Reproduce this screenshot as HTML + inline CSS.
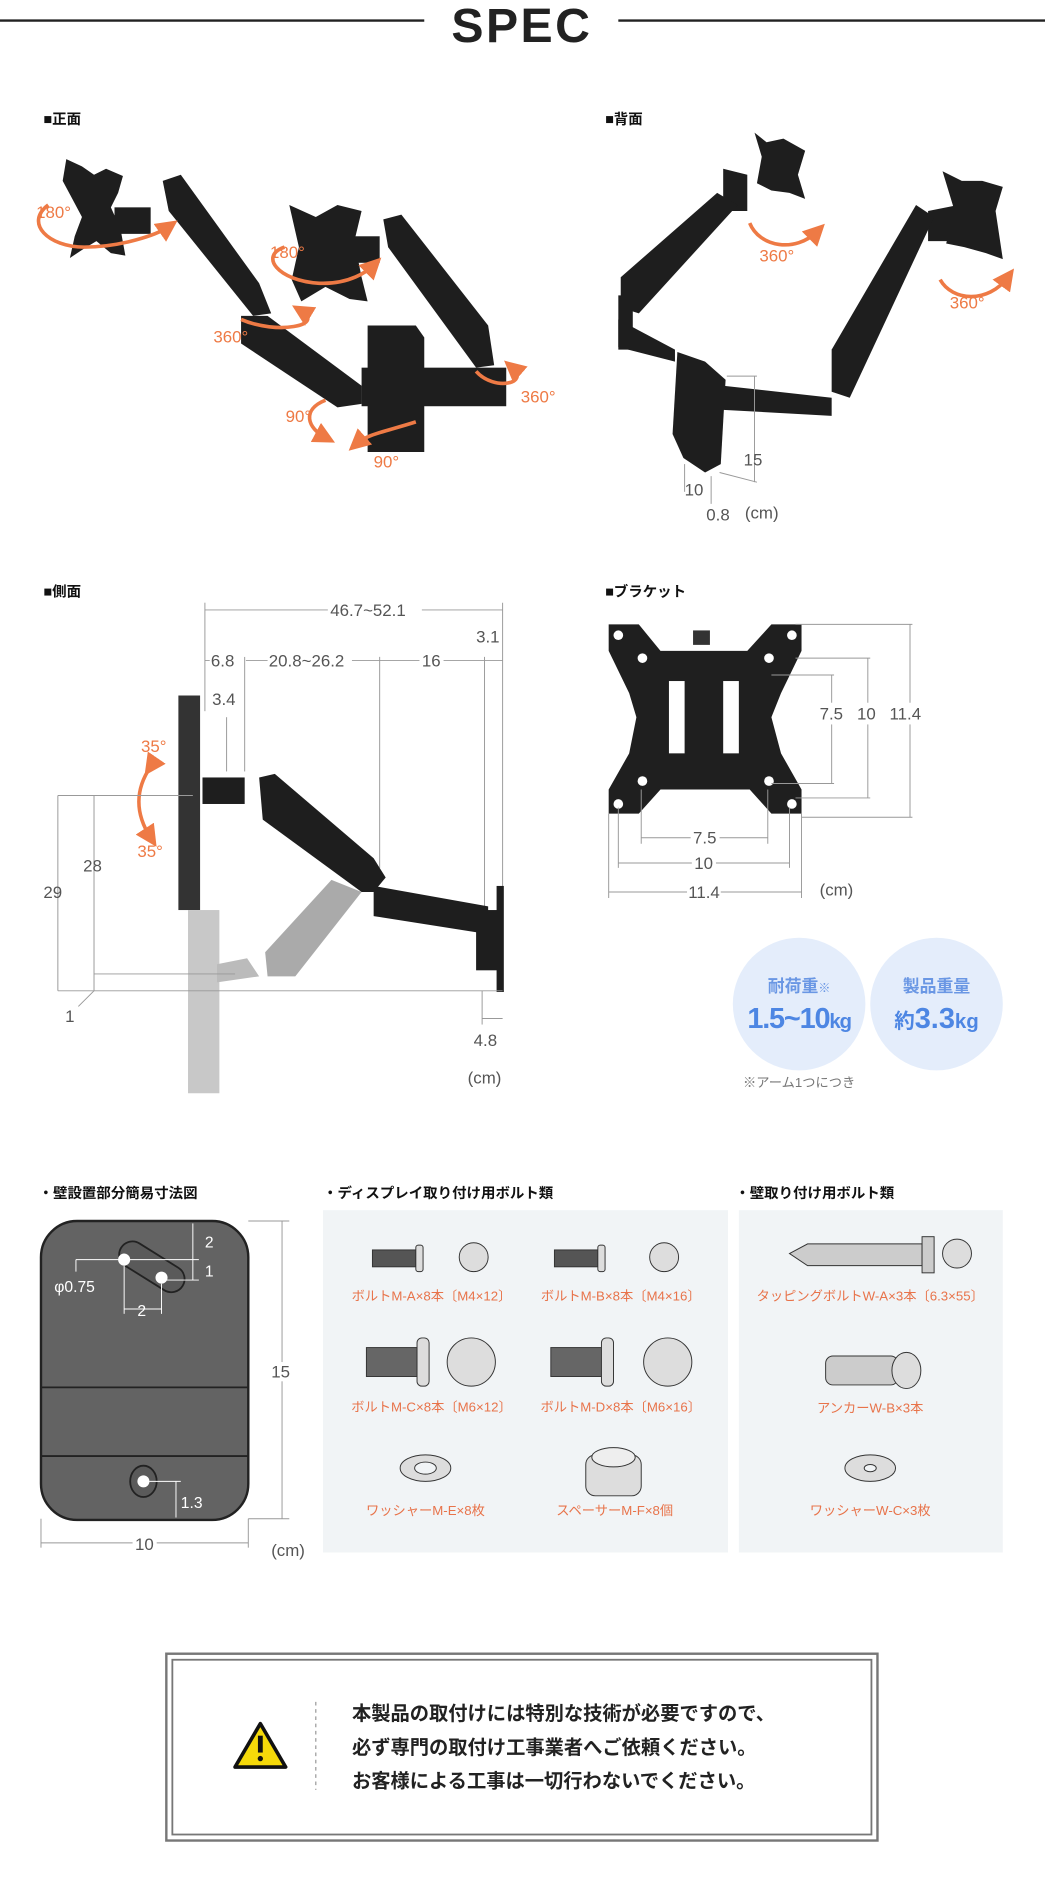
<!DOCTYPE html>
<html><head><meta charset="utf-8"><style>
html,body{margin:0;padding:0;background:#fff;width:1045px;height:1890px;overflow:hidden}
svg{display:block}
text{font-family:"Liberation Sans","Noto Sans CJK JP",sans-serif}
.d{fill:#555;font-size:14px}
.dl{stroke:#999;stroke-width:0.8;fill:none}
.o{fill:#ee7a45;font-size:14px}
.ob{fill:#e8734a;font-size:11px;text-anchor:middle}
.h{font-size:12px;font-weight:bold;fill:#111}
.blk{fill:#1e1e1e}
.arr{stroke:#ee7a45;stroke-width:3;fill:none}
</style></head><body>
<svg width="1045" height="1890" viewBox="0 0 867 1568" xmlns="http://www.w3.org/2000/svg">
<defs><marker id="ah" markerWidth="6" markerHeight="6" refX="3" refY="3" orient="auto"><path d="M0,0 L6,3 L0,6 z" fill="#ee7a45"/></marker></defs>
<!-- title -->
<line x1="0" y1="17" x2="352" y2="17" stroke="#222" stroke-width="2"/>
<line x1="513" y1="17" x2="867" y2="17" stroke="#222" stroke-width="2"/>
<text x="433" y="35" text-anchor="middle" style="font-size:40px;font-weight:bold;fill:#222;letter-spacing:2px">SPEC</text>

<text class="h" x="36" y="103">■正面</text>
<text class="h" x="502" y="103">■背面</text>
<text class="h" x="36" y="495">■側面</text>
<text class="h" x="502" y="495">■ブラケット</text>

<!-- FRONT VIEW -->
<g class="blk">
<path d="M55,132 L68,138 L78,145 L88,140 L102,146 L98,160 L92,172 L100,190 L104,212 L92,210 L80,200 L70,206 L58,214 L62,196 L68,180 L60,165 L52,150 Z"/>
<rect x="95" y="172" width="30" height="22"/>
<path d="M135,150 L150,145 L215,235 L225,260 L210,262 L140,175 Z"/>
<path d="M240,170 L262,180 L280,170 L300,175 L294,200 L300,230 L305,250 L290,248 L270,238 L250,250 L242,232 L248,205 Z"/>
<rect x="290" y="196" width="25" height="22"/>
<path d="M318,182 L333,178 L405,270 L410,303 L395,305 L322,205 Z"/>
<path d="M200,262 L222,262 L300,320 L300,335 L280,338 L200,285 Z"/>
<rect x="300" y="305" width="120" height="32"/>
<path d="M305,270 L345,270 L352,280 L352,375 L305,375 Z" />
</g>
<path class="arr" d="M40,170 C20,185 40,205 70,205 C100,205 130,195 140,188" marker-end="url(#ah)"/>
<path class="arr" d="M236,205 C215,212 230,233 265,235 C290,236 305,225 310,220" marker-end="url(#ah)"/>
<path class="arr" d="M200,265 C230,278 270,270 250,258" marker-end="url(#ah)"/>
<path class="arr" d="M395,308 C410,325 440,318 425,305" marker-end="url(#ah)"/>
<path class="arr" d="M345,350 C320,358 305,360 296,368" marker-end="url(#ah)"/>
<path class="arr" d="M270,332 C250,340 255,355 270,363" marker-end="url(#ah)"/>
<text class="o" x="30" y="181">180°</text>
<text class="o" x="224" y="214">180°</text>
<text class="o" x="177" y="284">360°</text>
<text class="o" x="432" y="334">360°</text>
<text class="o" x="237" y="350">90°</text>
<text class="o" x="310" y="388">90°</text>

<!-- BACK VIEW -->
<g class="blk">
<path d="M626,110 L636,118 L650,115 L668,125 L662,145 L668,165 L655,160 L640,158 L628,152 L632,130 Z"/>
<path d="M600,140 L620,145 L620,175 L600,175 Z"/>
<path d="M595,160 L612,170 L530,260 L515,255 L515,230 Z"/>
<path d="M782,142 L798,150 L815,150 L832,155 L826,175 L832,215 L818,210 L800,205 L785,202 L792,175 Z"/>
<path d="M770,175 L795,170 L795,200 L770,200 Z"/>
<path d="M760,170 L775,180 L705,330 L690,325 L690,290 Z"/>
<path d="M513,265 L560,290 L560,300 L513,288 Z"/>
<path d="M600,320 L690,330 L690,345 L600,340 Z"/>
<path d="M513,245 L525,245 L525,290 L513,290 Z"/>
<path d="M562,292 L585,300 L602,315 L598,385 L585,392 L567,380 L558,360 Z"/>
</g>
<path class="arr" d="M622,185 C630,205 660,210 678,192" marker-end="url(#ah)"/>
<path class="arr" d="M780,232 C790,250 820,252 836,230" marker-end="url(#ah)"/>
<text class="o" x="630" y="217">360°</text>
<text class="o" x="788" y="256">360°</text>
<line class="dl" x1="603" y1="312" x2="628" y2="312"/>
<line class="dl" x1="626" y1="312" x2="626" y2="400"/>
<line class="dl" x1="597" y1="392" x2="628" y2="400"/>
<line class="dl" x1="568" y1="385" x2="568" y2="408"/>
<line class="dl" x1="590" y1="395" x2="590" y2="418"/>
<text class="d" x="617" y="386">15</text>
<text class="d" x="568" y="411">10</text>
<text class="d" x="586" y="432">0.8</text>
<text class="d" x="618" y="430">(cm)</text>

<!-- SIDE VIEW -->
<line class="dl" x1="170" y1="506" x2="417" y2="506"/>
<rect x="272" y="498" width="78" height="16" fill="#fff"/>
<text class="d" x="274" y="511">46.7~52.1</text>
<line class="dl" x1="170" y1="500" x2="170" y2="590"/>
<line class="dl" x1="417" y1="500" x2="417" y2="740"/>
<line class="dl" x1="170" y1="548" x2="417" y2="548"/>
<rect x="174" y="540" width="30" height="16" fill="#fff"/><text class="d" x="175" y="553">6.8</text>
<rect x="222" y="540" width="70" height="16" fill="#fff"/><text class="d" x="223" y="553">20.8~26.2</text>
<rect x="348" y="540" width="20" height="16" fill="#fff"/><text class="d" x="350" y="553">16</text>
<text class="d" x="395" y="533">3.1</text>
<line class="dl" x1="203" y1="545" x2="203" y2="640"/>
<line class="dl" x1="315" y1="545" x2="315" y2="720"/>
<line class="dl" x1="402" y1="545" x2="402" y2="760"/>
<line class="dl" x1="188" y1="595" x2="188" y2="640"/>
<text class="d" x="176" y="585">3.4</text>
<rect x="148" y="577" width="18" height="178" fill="#333"/>
<rect x="156" y="755" width="26" height="152" fill="#c8c8c8"/>
<path d="M180,800 L205,795 L215,810 L180,815 Z" fill="#bbb"/>
<path d="M220,790 L275,730 L300,740 L245,810 L222,810 Z" fill="#aaa"/>
<g class="blk">
<rect x="168" y="645" width="35" height="22"/>
<path d="M215,645 L228,642 L310,712 L320,728 L310,740 L300,740 L218,680 Z"/>
<path d="M310,735 L405,752 L405,775 L310,760 Z"/>
<rect x="395" y="755" width="20" height="50"/>
<rect x="412" y="735" width="6" height="88"/>
</g>
<path class="arr" d="M125,636 C112,655 112,675 125,695" marker-start="url(#ah)" marker-end="url(#ah)"/>
<text class="o" x="117" y="624">35°</text>
<text class="o" x="114" y="711">35°</text>
<line class="dl" x1="48" y1="660" x2="160" y2="660"/>
<line class="dl" x1="48" y1="660" x2="48" y2="822"/>
<line class="dl" x1="78" y1="660" x2="78" y2="822"/>
<line class="dl" x1="78" y1="808" x2="195" y2="808"/>
<line class="dl" x1="48" y1="822" x2="417" y2="822"/>
<line class="dl" x1="78" y1="822" x2="65" y2="835"/>
<text class="d" x="36" y="745">29</text>
<text class="d" x="69" y="723">28</text>
<text class="d" x="54" y="848">1</text>
<line class="dl" x1="400" y1="822" x2="400" y2="850"/>
<line class="dl" x1="400" y1="845" x2="417" y2="845"/>
<text class="d" x="393" y="868">4.8</text>
<text class="d" x="388" y="899">(cm)</text>

<!-- BRACKET -->
<path d="M505,518 L530,518 L548,540 L620,540 L640,518 L665,518 L665,540 L648,575 L640,595 L648,625 L665,655 L665,675 L640,675 L622,655 L548,655 L530,675 L505,675 L505,655 L522,625 L528,595 L522,575 L505,540 Z" fill="#1f1f1f"/>
<rect x="575" y="523" width="14" height="12" fill="#333"/>
<rect x="555" y="565" width="13" height="60" fill="#fff"/>
<rect x="600" y="565" width="13" height="60" fill="#fff"/>
<g fill="#fff"><circle cx="513" cy="527" r="4"/><circle cx="657" cy="527" r="4"/><circle cx="533" cy="546" r="4"/><circle cx="638" cy="546" r="4"/><circle cx="533" cy="648" r="4"/><circle cx="638" cy="648" r="4"/><circle cx="513" cy="667" r="4"/><circle cx="657" cy="667" r="4"/></g>
<g class="dl">
<line x1="660" y1="518" x2="757" y2="518"/><line x1="755" y1="518" x2="755" y2="678"/><line x1="665" y1="678" x2="757" y2="678"/>
<line x1="660" y1="546" x2="722" y2="546"/><line x1="720" y1="546" x2="720" y2="662"/><line x1="660" y1="662" x2="722" y2="662"/>
<line x1="640" y1="560" x2="692" y2="560"/><line x1="690" y1="560" x2="690" y2="650"/><line x1="640" y1="650" x2="692" y2="650"/>
<line x1="532" y1="655" x2="532" y2="700"/><line x1="637" y1="655" x2="637" y2="700"/><line x1="532" y1="695" x2="637" y2="695"/>
<line x1="513" y1="670" x2="513" y2="720"/><line x1="655" y1="670" x2="655" y2="720"/><line x1="513" y1="716" x2="655" y2="716"/>
<line x1="505" y1="675" x2="505" y2="745"/><line x1="665" y1="675" x2="665" y2="745"/><line x1="505" y1="740" x2="665" y2="740"/>
</g>
<rect x="676" y="583" width="96" height="18" fill="#fff"/>
<text class="d" x="680" y="597">7.5</text><text class="d" x="711" y="597">10</text><text class="d" x="738" y="597">11.4</text>
<rect x="573" y="687" width="24" height="16" fill="#fff"/><text class="d" x="575" y="700">7.5</text>
<rect x="574" y="708" width="20" height="16" fill="#fff"/><text class="d" x="576" y="721">10</text>
<rect x="570" y="732" width="28" height="16" fill="#fff"/><text class="d" x="571" y="745">11.4</text>
<text class="d" x="680" y="743">(cm)</text>

<!-- circles -->
<circle cx="663" cy="833" r="55" fill="#e4edfb"/>
<circle cx="777" cy="833" r="55" fill="#e4edfb"/>
<text x="663" y="823" text-anchor="middle" style="font-size:14px;fill:#6a97e4;font-weight:bold">耐荷重<tspan style="font-size:10px">※</tspan></text>
<text x="663" y="853" text-anchor="middle" style="font-size:24px;fill:#4d86e3;font-weight:bold;letter-spacing:-1px">1.5~10<tspan style="font-size:17px">kg</tspan></text>
<text x="777" y="823" text-anchor="middle" style="font-size:14px;fill:#6a97e4;font-weight:bold">製品重量</text>
<text x="777" y="853" text-anchor="middle" style="font-size:24px;fill:#4d86e3;font-weight:bold"><tspan style="font-size:17px">約</tspan>3.3<tspan style="font-size:17px">kg</tspan></text>
<text x="663" y="902" text-anchor="middle" style="font-size:11px;fill:#777">※アーム1つにつき</text>

<!-- BOTTOM -->
<text class="h" x="32" y="994">・壁設置部分簡易寸法図</text>
<text class="h" x="268" y="994">・ディスプレイ取り付け用ボルト類</text>
<text class="h" x="610" y="994">・壁取り付け用ボルト類</text>

<rect x="34" y="1013" width="172" height="248" rx="30" fill="#636363" stroke="#222" stroke-width="2"/>
<line x1="34" y1="1151" x2="206" y2="1151" stroke="#222" stroke-width="1.5"/>
<line x1="34" y1="1208" x2="206" y2="1208" stroke="#222" stroke-width="1.5"/>
<rect x="96" y="1040" width="60" height="22" rx="11" transform="rotate(32 126 1051)" fill="#5a5a5a" stroke="#222" stroke-width="1.5"/>
<circle cx="103" cy="1045" r="5" fill="#fff"/><circle cx="134" cy="1060" r="5" fill="#fff"/>
<ellipse cx="119" cy="1229" rx="11" ry="13" fill="#5a5a5a" stroke="#222" stroke-width="1.5"/>
<circle cx="119" cy="1229" r="5" fill="#fff"/>
<g stroke="#fff" stroke-width="0.8" fill="none">
<line x1="160" y1="1015" x2="160" y2="1062"/><line x1="103" y1="1045" x2="165" y2="1045"/><line x1="134" y1="1062" x2="165" y2="1062"/>
<line x1="63" y1="1045" x2="103" y2="1045"/><line x1="63" y1="1045" x2="63" y2="1055"/>
<line x1="103" y1="1050" x2="103" y2="1090"/><line x1="134" y1="1065" x2="134" y2="1090"/><line x1="103" y1="1086" x2="134" y2="1086"/>
<line x1="124" y1="1229" x2="150" y2="1229"/><line x1="146" y1="1229" x2="146" y2="1259"/>
</g>
<g fill="#fff" style="font-size:13px"><text x="170" y="1035">2</text><text x="170" y="1059">1</text><text x="45" y="1072">φ0.75</text><text x="114" y="1092">2</text><text x="150" y="1251">1.3</text></g>
<line class="dl" x1="206" y1="1013" x2="240" y2="1013"/><line class="dl" x1="206" y1="1260" x2="240" y2="1260"/>
<line class="dl" x1="234" y1="1013" x2="234" y2="1260"/>
<rect x="225" y="1130" width="18" height="16" fill="#fff"/><text class="d" x="225" y="1143">15</text>
<line class="dl" x1="34" y1="1260" x2="34" y2="1284"/><line class="dl" x1="206" y1="1260" x2="206" y2="1284"/>
<line class="dl" x1="34" y1="1280" x2="206" y2="1280"/>
<rect x="110" y="1272" width="20" height="16" fill="#fff"/><text class="d" x="112" y="1286">10</text>
<text class="d" x="225" y="1291">(cm)</text>

<rect x="268" y="1004" width="336" height="284" fill="#f1f4f6"/>
<rect x="613" y="1004" width="219" height="284" fill="#f1f4f6"/>
<!-- bolts -->
<g stroke="#333" stroke-width="0.8">
<rect x="309" y="1037" width="36" height="14" fill="#555"/><rect x="345" y="1033" width="6" height="22" rx="2" fill="#ddd"/><circle cx="393" cy="1043" r="12" fill="#ddd"/>
<rect x="460" y="1037" width="36" height="14" fill="#555"/><rect x="496" y="1033" width="6" height="22" rx="2" fill="#ddd"/><circle cx="551" cy="1043" r="12" fill="#ddd"/>
<rect x="304" y="1118" width="42" height="24" fill="#666"/><rect x="346" y="1110" width="10" height="40" rx="4" fill="#ddd"/><circle cx="391" cy="1130" r="20" fill="#ddd"/>
<rect x="457" y="1118" width="42" height="24" fill="#666"/><rect x="499" y="1110" width="10" height="40" rx="4" fill="#ddd"/><circle cx="554" cy="1130" r="20" fill="#ddd"/>
<ellipse cx="353" cy="1218" rx="21" ry="11" fill="#ddd"/><ellipse cx="353" cy="1218" rx="9" ry="5" fill="#f1f4f6"/>
<rect x="486" y="1207" width="46" height="34" rx="8" fill="#ddd"/><ellipse cx="509" cy="1209" rx="18" ry="8" fill="#eee"/>
<path d="M655,1040 L670,1032 L765,1032 L765,1050 L670,1050 Z" fill="#ccc"/><rect x="765" y="1026" width="10" height="30" fill="#ccc"/><circle cx="794" cy="1040" r="12" fill="#ddd"/>
<rect x="685" y="1125" width="60" height="24" rx="6" fill="#ccc"/><ellipse cx="752" cy="1137" rx="12" ry="15" fill="#ddd"/>
<ellipse cx="722" cy="1218" rx="21" ry="11" fill="#ddd"/><ellipse cx="722" cy="1218" rx="5" ry="3" fill="#f1f4f6"/>
</g>
<text class="ob" x="358" y="1079">ボルトM-A×8本〔M4×12〕</text>
<text class="ob" x="515" y="1079">ボルトM-B×8本〔M4×16〕</text>
<text class="ob" x="358" y="1171">ボルトM-C×8本〔M6×12〕</text>
<text class="ob" x="515" y="1171">ボルトM-D×8本〔M6×16〕</text>
<text class="ob" x="353" y="1257">ワッシャーM-E×8枚</text>
<text class="ob" x="510" y="1257">スペーサーM-F×8個</text>
<text class="ob" x="722" y="1079">タッピングボルトW-A×3本〔6.3×55〕</text>
<text class="ob" x="722" y="1172">アンカーW-B×3本</text>
<text class="ob" x="722" y="1257">ワッシャーW-C×3枚</text>

<!-- warning -->
<rect x="138" y="1372" width="590" height="155" fill="#fff" stroke="#777" stroke-width="2"/>
<rect x="143" y="1377" width="580" height="145" fill="#fff" stroke="#777" stroke-width="1.5"/>
<path d="M216,1430 L237,1466 L195,1466 Z" fill="#f5d90a" stroke="#111" stroke-width="3" stroke-linejoin="round"/>
<rect x="214" y="1440" width="4" height="14" fill="#111"/><circle cx="216" cy="1459" r="2.2" fill="#111"/>
<line x1="262" y1="1412" x2="262" y2="1485" stroke="#999" stroke-width="1" stroke-dasharray="3,3"/>
<g style="font-size:16px;font-weight:bold;fill:#222">
<text x="292" y="1427">本製品の取付けには特別な技術が必要ですので、</text>
<text x="292" y="1455">必ず専門の取付け工事業者へご依頼ください。</text>
<text x="292" y="1483">お客様による工事は一切行わないでください。</text>
</g>
</svg>
</body></html>
